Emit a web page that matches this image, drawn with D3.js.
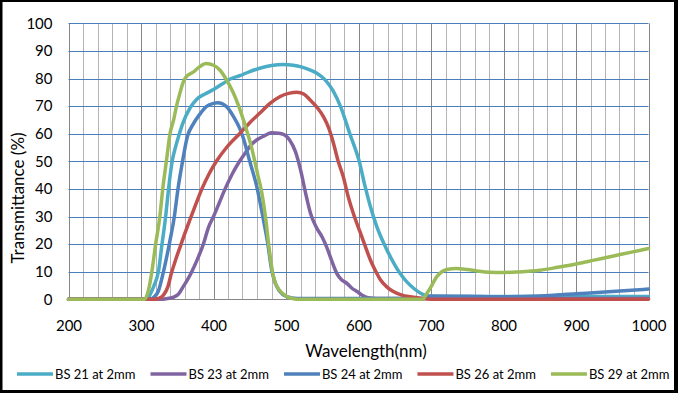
<!DOCTYPE html>
<html>
<head>
<meta charset="utf-8">
<script src="https://cdnjs.cloudflare.com/ajax/libs/d3/7.8.5/d3.min.js"></script>
<style>
  html, body { margin: 0; padding: 0; background: #fff; }
  svg { display: block; font-family: Lato, 'Open Sans', sans-serif; }
</style>
</head>
<body>
<script>
// wavelength (nm), transmittance (%)
const bs21 = [[200,0],[308,0],[313,2],[318,5],[324,10],[329,20],[334,30],[338,40],[343,50],[348,55.5],[353,60],[358,64],[368,69.5],[377,72.5],[389,74.5],[400,76],[412,78],[423,79.8],[436,81],[450,82.5],[465,83.8],[480,84.7],[496,85.1],[510,84.8],[521,84.2],[532,83.2],[542,82],[554,79.5],[565,75.5],[575,70],[588,60],[601,50],[609,41],[616,34],[625,26.5],[639,18],[650,12.5],[657,9.5],[667,6.2],[676,4],[685,2.3],[692,1.5],[705,1],[1000,1]];
const bs23 = [[200,0],[325,0],[335,0.2],[345,0.8],[352,2],[358,4.5],[364,7],[370,10],[377,14],[386,20],[393,26],[400,30],[408,35],[416,40],[426,45.5],[436,50],[445,53.5],[452,56],[460,57.8],[470,59.2],[480,60.3],[490,60.2],[497,59.7],[505,57.7],[513,53.5],[520,47],[527,38.5],[534,31],[542,26],[550,22.5],[556,19],[563,14],[570,9.4],[577,7],[584,5.8],[591,4],[598,2.8],[605,1.5],[613,0.6],[625,0.3],[1000,0.3]];
const bs24 = [[200,0],[313,0],[318,0.8],[324,3],[331,10],[339,20],[346,30],[351,40],[356,48],[364,59],[372,63.5],[381,67],[390,69.8],[400,71],[406,71.2],[418,69.8],[428,66],[436,62],[441,58.5],[450,50],[460,40.5],[468,30],[475,20],[480,11],[485,6],[491,3],[501,1],[515,0.3],[690,0.3],[700,1.2],[750,1.1],[800,0.9],[850,1.2],[900,2],[950,2.8],[1000,3.7]];
const bs26 = [[200,0],[316,0],[324,0.3],[331,1.5],[337,4.5],[342,9.5],[348,14.5],[354,19],[360,23.5],[367,28.5],[375,34],[384,40],[394,45.5],[404,50],[418,55],[436,60],[450,64],[464,67.5],[478,71],[492,73.5],[505,74.7],[515,75],[525,74.3],[533,72.3],[543,69.5],[552,66],[559,62],[565,57],[572,50],[579,44.4],[586,37],[593,31],[602,24.5],[611,18],[616,14.5],[623,10.5],[630,7.2],[639,4.5],[648,2.8],[660,1.5],[671,0.9],[685,0.4],[700,0],[1000,0]];
const bs29 = [[200,0],[305,0],[310,3],[315,10],[320,19.6],[326,30],[330,40],[335,50],[340,60],[345,65],[349,70],[354,75],[358,78.5],[362,80.5],[372,82.3],[381,84.3],[390,85.4],[400,84.8],[409,83],[418,79.5],[427,75],[434,70.5],[440,66],[446,61],[451,56.5],[457,50],[462,44],[466,39.5],[470,33],[473,27],[476,20],[479,14],[482,9],[486,5.5],[492,3],[500,1.2],[510,0.2],[520,0],[688,0],[694,2],[700,4.5],[708,8.2],[715,10],[722,10.8],[735,11.2],[750,10.8],[765,10.2],[780,9.8],[800,9.7],[820,9.9],[850,10.5],[875,11.6],[900,12.8],[925,14.2],[950,15.6],[975,17],[1000,18.4]];

const seriesNames = ['BS 21 at 2mm', 'BS 23 at 2mm', 'BS 24 at 2mm', 'BS 26 at 2mm', 'BS 29 at 2mm'];
const seriesData = [bs21, bs23, bs24, bs26, bs29];
const seriesColors = ['#4bacc6', '#8064a2', '#4f81bd', '#c0504d', '#9bbb59'];

const xTicks = [200, 300, 400, 500, 600, 700, 800, 900, 1000];
const yTicks = [0, 10, 20, 30, 40, 50, 60, 70, 80, 90, 100];

const W = 678, H = 393;
const margin = {left: 68.5, right: 29.5, top: 23.3, bottom: 93.7};

const svg = d3.select('body').append('svg')
    .attr('width', W)
    .attr('height', H);

// black frame
svg.append('rect').attr('width', W).attr('height', H).attr('fill', '#000');
svg.append('rect').attr('x', 2.5).attr('y', 2).attr('width', 671.5).attr('height', 388).attr('fill', '#fff');

const x = d3.scaleLinear().domain([200, 1000]).range([margin.left, W - margin.right]);
const y = d3.scaleLinear().domain([0, 100]).range([H - margin.bottom, margin.top]);

// vertical grid, every 20 nm
const grid = svg.append('g').attr('class', 'grid');
grid.selectAll('line.v')
    .data(d3.range(200, 1001, 20))
    .enter()
    .append('line')
    .attr('x1', d => Math.round(x(d)) + 0.5)
    .attr('x2', d => Math.round(x(d)) + 0.5)
    .attr('y1', y(100))
    .attr('y2', y(0))
    .attr('stroke', d => d % 100 === 0 ? '#868686' : '#b4b4b4')
    .attr('stroke-width', 1);

// horizontal grid
grid.selectAll('line.h')
    .data(yTicks.filter(d => d > 0))
    .enter()
    .append('line')
    .attr('x1', x(200))
    .attr('x2', x(1000))
    .attr('y1', d => Math.round(y(d)) + 0.5)
    .attr('y2', d => Math.round(y(d)) + 0.5)
    .attr('stroke', '#4a7ebb')
    .attr('stroke-width', 1);

// bottom axis line
svg.append('line')
    .attr('x1', x(200)).attr('x2', x(1000))
    .attr('y1', Math.round(y(0)) + 0.5).attr('y2', Math.round(y(0)) + 0.5)
    .attr('stroke', '#868686');

// axes (labels only)
const xAxis = svg.append('g')
    .attr('transform', 'translate(0,' + y(0) + ')')
    .call(d3.axisBottom(x).tickValues(xTicks).tickFormat(d3.format('d')).tickSize(0).tickPadding(21));
const yAxis = svg.append('g')
    .attr('transform', 'translate(' + x(200) + ',0)')
    .call(d3.axisLeft(y).tickValues(yTicks).tickFormat(d3.format('d')).tickSize(0).tickPadding(16));
[xAxis, yAxis].forEach(a => {
    a.select('.domain').remove();
    a.selectAll('text')
        .attr('font-family', 'Lato, sans-serif')
        .attr('font-size', 15)
        .attr('fill', '#000');
});

// series
const line = d3.line()
    .x(d => x(d[0]))
    .y(d => y(d[1]))
    .curve(d3.curveMonotoneX);

svg.append('g')
    .selectAll('path')
    .data(seriesData)
    .enter()
    .append('path')
    .attr('d', line)
    .attr('fill', 'none')
    .attr('stroke', (d, i) => seriesColors[i])
    .attr('stroke-width', 3.5)
    .attr('stroke-linejoin', 'round')
    .attr('stroke-linecap', 'round');

// axis titles
svg.append('text')
    .text('Wavelength(nm)')
    .attr('x', 366)
    .attr('y', 357)
    .attr('text-anchor', 'middle')
    .attr('font-size', 17)
    .attr('fill', '#000');

svg.append('text')
    .text('Transmittance (%)')
    .attr('transform', 'translate(24,198) rotate(-90)')
    .attr('text-anchor', 'middle')
    .attr('font-size', 17)
    .attr('fill', '#000');

// legend
const legend = svg.append('g').attr('transform', 'translate(17,374)');
let lx = 0;
seriesNames.forEach((name, i) => {
    const item = legend.append('g').attr('transform', 'translate(' + lx + ',0)');
    item.append('line')
        .attr('x1', 0).attr('x2', 36)
        .attr('y1', 0).attr('y2', 0)
        .attr('stroke', seriesColors[i])
        .attr('stroke-width', 3.5);
    const t = item.append('text')
        .text(name)
        .attr('x', 38)
        .attr('y', 4.5)
        .attr('font-size', 13)
        .attr('fill', '#000');
    lx += 38 + t.node().getComputedTextLength() + 15;
});
</script>
</body>
</html>
